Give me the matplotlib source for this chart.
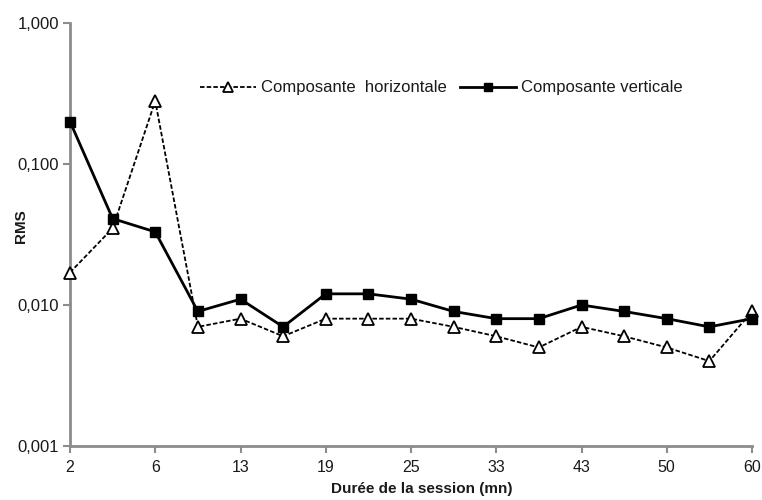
import matplotlib
matplotlib.use("Agg")
import matplotlib.pyplot as plt
from matplotlib.ticker import FixedLocator, FuncFormatter, NullLocator

tick_labels = ["2", "6", "13", "19", "25", "33", "43", "50", "60"]
horizontale = [0.017, 0.035, 0.28, 0.007, 0.008, 0.006, 0.008, 0.008, 0.008,
               0.007, 0.006, 0.005, 0.007, 0.006, 0.005, 0.004, 0.009]
verticale = [0.2, 0.041, 0.033, 0.009, 0.011, 0.007, 0.012, 0.012, 0.011,
             0.009, 0.008, 0.008, 0.010, 0.009, 0.008, 0.007, 0.008]

plt.rcParams['font.family'] = ['Liberation Sans', 'DejaVu Sans']

fig = plt.figure(figsize=(7.62, 5.0), dpi=100)
ax = fig.add_axes([70/762, 1-446/500, (752-70)/762, (446-23)/500])

x = list(range(len(horizontale)))
ax.plot(x, horizontale, linestyle=(0, (2.5, 1.2)), color='black', linewidth=1.3,
        marker='^', markersize=9, markerfacecolor='white', markeredgecolor='black',
        markeredgewidth=1.3, label='Composante  horizontale', clip_on=False, zorder=3)
ax.plot(x, verticale, linestyle='-', color='black', linewidth=2,
        marker='s', markersize=7.5, markerfacecolor='black', markeredgecolor='black',
        label='Composante verticale', clip_on=False, zorder=4)

ax.set_yscale('log')
ax.set_ylim(0.001, 1.0)
ax.set_xlim(0, len(horizontale) - 1)
ax.yaxis.set_major_locator(FixedLocator([0.001, 0.01, 0.1, 1.0]))
ax.yaxis.set_minor_locator(NullLocator())
ax.yaxis.set_major_formatter(FuncFormatter(lambda v, p: f"{v:.3f}".replace('.', ',')))

ax.set_xticks(list(range(0, len(horizontale), 2)))
ax.set_xticklabels(tick_labels)

for s in ['top', 'right']:
    ax.spines[s].set_visible(False)
for s in ['left', 'bottom']:
    ax.spines[s].set_color('#8c8c8c')
    ax.spines[s].set_linewidth(2)
ax.tick_params(axis='both', colors='#8c8c8c', width=1.5, length=5,
               labelcolor='#1a1a1a')
ax.tick_params(axis='y', labelsize=12, pad=3)
ax.tick_params(axis='x', labelsize=11.5, pad=5)

ax.set_ylabel('RMS', fontsize=11, fontweight='bold', color='#1a1a1a')
ax.yaxis.set_label_coords((28 - 70) / 682, 0.52)
ax.set_xlabel('Durée de la session (mn)', fontsize=11, fontweight='bold',
              color='#1a1a1a')
ax.xaxis.set_label_coords((422 - 70) / 682, -(482 - 446) / 423)

leg = ax.legend(loc='center', ncol=2, frameon=False, fontsize=12, handlelength=3.4,
                handletextpad=0.25, columnspacing=0.8, markerscale=0.8)
leg.set_bbox_to_anchor((441/762, 1 - 88/500), transform=fig.transFigure)
for t in leg.get_texts():
    t.set_color('#1a1a1a')

fig.savefig('out.png', dpi=100)
